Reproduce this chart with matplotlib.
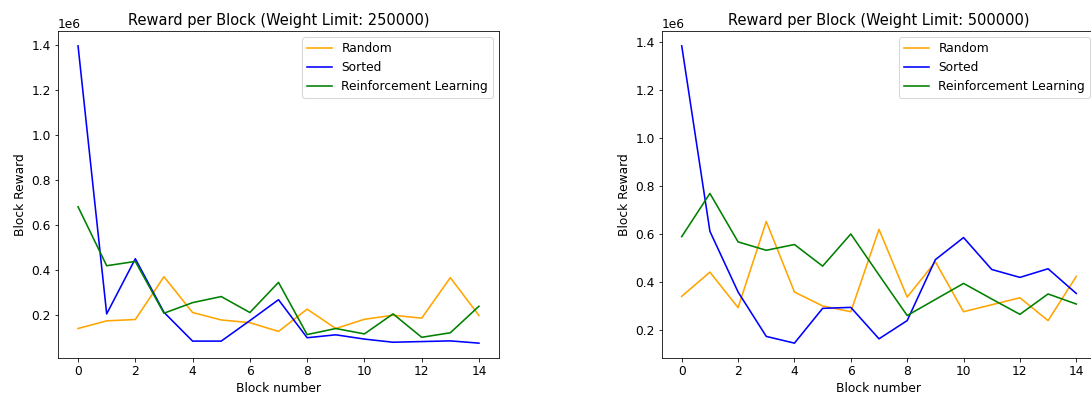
import matplotlib
matplotlib.use("Agg")
import matplotlib.pyplot as plt
import numpy as np

blocks = np.arange(15)

# weight limit 250000
random_250 = [0.141, 0.175, 0.181, 0.371, 0.212, 0.179, 0.167, 0.128, 0.227,
              0.141, 0.182, 0.200, 0.187, 0.367, 0.199]
sorted_250 = [1.397, 0.206, 0.451, 0.213, 0.085, 0.085, 0.176, 0.269, 0.100,
              0.113, 0.094, 0.080, 0.083, 0.086, 0.076]
rl_250 = [0.682, 0.420, 0.439, 0.209, 0.256, 0.283, 0.212, 0.346, 0.114,
          0.141, 0.117, 0.206, 0.102, 0.122, 0.240]

# weight limit 500000
random_500 = [0.341, 0.442, 0.294, 0.653, 0.359, 0.301, 0.277, 0.620, 0.338,
              0.485, 0.277, 0.306, 0.335, 0.240, 0.424]
sorted_500 = [1.385, 0.612, 0.359, 0.174, 0.146, 0.291, 0.295, 0.164, 0.240,
              0.494, 0.586, 0.453, 0.420, 0.456, 0.353]
rl_500 = [0.590, 0.770, 0.568, 0.533, 0.557, 0.467, 0.601, 0.430, 0.261,
          0.328, 0.395, 0.330, 0.266, 0.351, 0.309]

plt.rcParams['font.size'] = 12.2
plt.rcParams['lines.linewidth'] = 1.6

W, H = 1091, 401
fig = plt.figure(figsize=(W / 72, H / 72), dpi=72)

panels = [
    (250000, random_250, sorted_250, rl_250, [58, 31, 441, 327]),
    (500000, random_500, sorted_500, rl_500, [662, 31, 434, 327]),
]

for limit, r, s, rl, (x, y, w, h) in panels:
    ax = fig.add_axes([x / W, (H - y - h) / H, w / W, h / H])
    ax.plot(blocks, np.array(r) * 1e6, color='orange', label='Random')
    ax.plot(blocks, np.array(s) * 1e6, color='blue', label='Sorted')
    ax.plot(blocks, np.array(rl) * 1e6, color='green',
            label='Reinforcement Learning')
    ax.set_title('Reward per Block (Weight Limit: %d)' % limit)
    ax.set_xlabel('Block number')
    ax.set_ylabel('Block Reward')
    ax.set_xticks(range(0, 15, 2))
    ax.legend(loc='upper right')

fig.savefig('out.png', dpi=72)
